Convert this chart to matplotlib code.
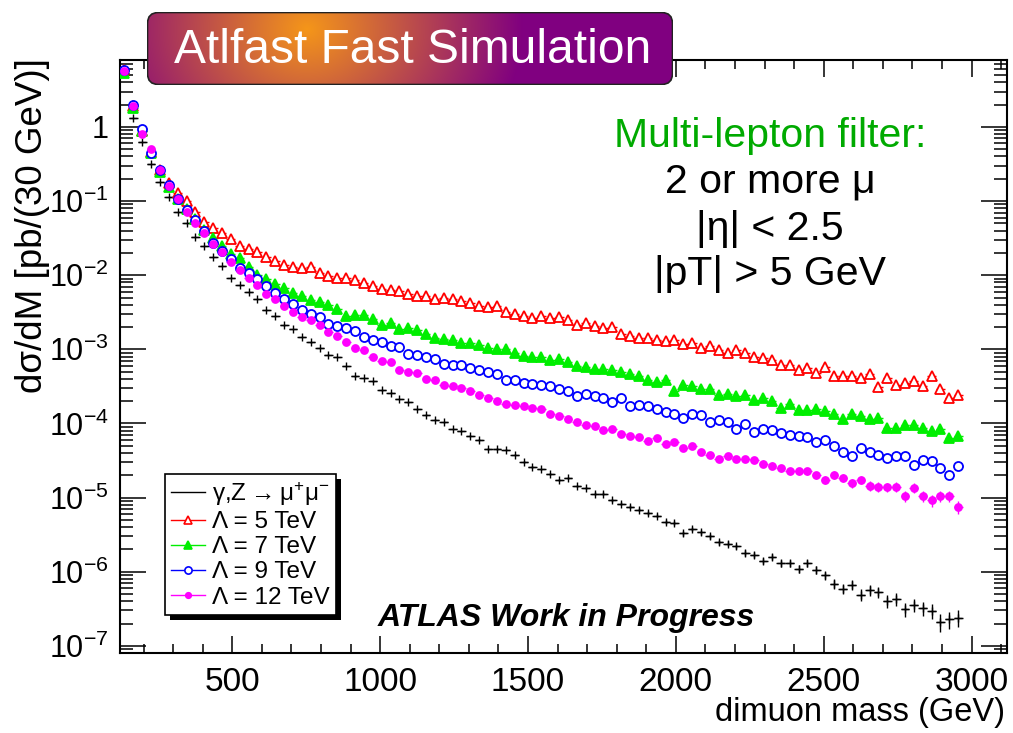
import numpy as np
import matplotlib
matplotlib.use("Agg")
import matplotlib.pyplot as plt
from matplotlib.lines import Line2D
from matplotlib.patches import FancyBboxPatch, Rectangle
from matplotlib.ticker import MultipleLocator, LogLocator, FuncFormatter, NullFormatter
from matplotlib.transforms import IdentityTransform

plt.rcParams['font.family'] = ['Liberation Sans', 'DejaVu Sans']
plt.rcParams['mathtext.default'] = 'regular'

# dimuon mass bins, 30 GeV wide
bin_width = 30.0
mass = np.arange(120, 2970, bin_width) + bin_width / 2

# d(sigma)/dM [pb / 30 GeV]
dy = [5.3, 1.31, 0.62, 0.314, 0.18, 0.112, 0.072, 0.051, 0.033, 0.025,
      0.0178, 0.0134, 0.0093, 0.0073, 0.0059, 0.0048, 0.0034, 0.0028, 0.0021, 0.0019,
      0.00148, 0.00124, 0.00104, 0.00085, 0.00079, 0.00059, 0.00043, 0.00041, 0.00037, 0.00028,
      0.00026, 0.000214, 0.000193, 0.000155, 0.000132, 0.000113, 0.000104, 8.4e-5, 7.8e-5, 6.85e-5,
      6.0e-5, 4.52e-5, 4.52e-5, 4.43e-5, 3.8e-5, 3.0e-5, 2.59e-5, 2.4e-5, 2.1e-5, 1.71e-5,
      1.84e-5, 1.45e-5, 1.35e-5, 1.13e-5, 1.13e-5, 9.2e-6, 8.3e-6, 7.5e-6, 6.9e-6, 6.2e-6,
      5.7e-6, 4.7e-6, 4.5e-6, 3.3e-6, 3.8e-6, 3.4e-6, 3.0e-6, 2.5e-6, 2.4e-6, 2.2e-6,
      1.8e-6, 1.7e-6, 1.4e-6, 1.6e-6, 1.3e-6, 1.3e-6, 1.1e-6, 1.3e-6, 1.07e-6, 8.9e-7,
      6.9e-7, 5.9e-7, 6.7e-7, 4.9e-7, 5.6e-7, 5.3e-7, 4.0e-7, 4.3e-7, 3.1e-7, 3.6e-7,
      3.2e-7, 2.95e-7, 2.1e-7, 2.27e-7, 2.4e-7]

lam5 = [5.8, 1.94, 0.88, 0.46, 0.263, 0.174, 0.128, 0.099, 0.071, 0.052,
        0.043, 0.037, 0.031, 0.025, 0.0228, 0.0205, 0.0178, 0.0156, 0.0138, 0.0130,
        0.0125, 0.0127, 0.0107, 0.0098, 0.0091, 0.0091, 0.0085, 0.0078, 0.0072, 0.0066,
        0.0064, 0.0062, 0.0056, 0.0053, 0.0053, 0.0048, 0.0050, 0.0047, 0.0045, 0.0042,
        0.0039, 0.0037, 0.0039, 0.0032, 0.0030, 0.00284, 0.00263, 0.00284, 0.00263, 0.00272,
        0.00251, 0.00215, 0.00226, 0.00208, 0.00194, 0.0020, 0.00162, 0.00152, 0.00142, 0.00142,
        0.00135, 0.00128, 0.00135, 0.00119, 0.00122, 0.00104, 0.00112, 0.00097, 0.00089, 0.00097,
        0.00089, 0.00079, 0.00076, 0.00072, 0.00062, 0.00062, 0.00052, 0.00056, 0.00048, 0.00058,
        0.00044, 0.00043, 0.00043, 0.00041, 0.00046, 0.00031, 0.00041, 0.00033, 0.00035, 0.00037,
        0.00032, 0.00043, 0.00029, 0.00022, 0.000245]

lam7 = [5.3, 1.8, 0.88, 0.45, 0.25, 0.155, 0.107, 0.0785, 0.0575, 0.041,
        0.0317, 0.025, 0.0192, 0.017, 0.013, 0.0100, 0.0089, 0.0076, 0.0067, 0.0057,
        0.0052, 0.0046, 0.0043, 0.0040, 0.0035, 0.00278, 0.00292, 0.00292, 0.00256, 0.00215,
        0.0023, 0.00188, 0.00194, 0.00184, 0.00162, 0.00142, 0.00138, 0.00135, 0.00122, 0.00122,
        0.00115, 0.00104, 0.0010, 0.0010, 0.00089, 0.00082, 0.0008, 0.00079, 0.00072, 0.00074,
        0.00067, 0.00059, 0.00058, 0.00054, 0.00054, 0.00052, 0.0005, 0.00047, 0.00043, 0.00038,
        0.00036, 0.00039, 0.00027, 0.000333, 0.000316, 0.00029, 0.00029, 0.000245, 0.00025, 0.000232,
        0.000245, 0.000204, 0.00022, 0.0002, 0.00016, 0.000185, 0.00015, 0.00015, 0.000155, 0.000146,
        0.000136, 0.000115, 0.000136, 0.000125, 0.000115, 0.000119, 8.7e-5, 8.7e-5, 9.6e-5, 9.6e-5,
        8.7e-5, 7.8e-5, 8.3e-5, 6.37e-5, 6.71e-5]

lam9 = [5.9, 2.0, 0.95, 0.45, 0.26, 0.165, 0.107, 0.076, 0.055, 0.040,
        0.027, 0.0214, 0.0166, 0.0125, 0.0107, 0.0089, 0.0071, 0.0057, 0.0047, 0.0041,
        0.0034, 0.0030, 0.0027, 0.00221, 0.00208, 0.00194, 0.00175, 0.00146, 0.00132, 0.00124,
        0.0011, 0.00107, 0.00087, 0.00085, 0.0008, 0.00074, 0.00064, 0.00062, 0.00062, 0.00056,
        0.00052, 0.0005, 0.00047, 0.00039, 0.00038, 0.00035, 0.00034, 0.000333, 0.000316, 0.00029,
        0.00027, 0.000237, 0.00025, 0.000232, 0.00022, 0.000193, 0.00022, 0.00017, 0.000179, 0.00017,
        0.000157, 0.000141, 0.000136, 0.000119, 0.000136, 0.000128, 0.000104, 0.00011, 0.000104, 8.4e-5,
        9.8e-5, 7.6e-5, 8.4e-5, 8.1e-5, 7.5e-5, 7.07e-5, 6.85e-5, 6.6e-5, 5.56e-5, 5.92e-5,
        4.92e-5, 4.08e-5, 3.68e-5, 4.68e-5, 4.08e-5, 3.8e-5, 3.43e-5, 3.6e-5, 3.68e-5, 2.79e-5,
        3.25e-5, 3.09e-5, 2.51e-5, 2.0e-5, 2.69e-5]

lam12 = [5.6, 1.9, 0.80, 0.51, 0.26, 0.16, 0.105, 0.071, 0.050, 0.037,
         0.026, 0.0205, 0.015, 0.0118, 0.0093, 0.0074, 0.0055, 0.0047, 0.0039, 0.0032,
         0.0027, 0.0025, 0.0021, 0.0017, 0.00149, 0.00124, 0.00104, 0.00097, 0.0008, 0.00069,
         0.00067, 0.00053, 0.0005, 0.00048, 0.0004, 0.00039, 0.000333, 0.000316, 0.0003, 0.00027,
         0.000245, 0.00022, 0.0002, 0.000185, 0.000179, 0.00017, 0.00016, 0.000155, 0.000136, 0.000127,
         0.000115, 0.000104, 9.64e-5, 9.14e-5, 8.07e-5, 8.42e-5, 7.3e-5, 6.85e-5, 6.6e-5, 5.75e-5,
         6.37e-5, 5.36e-5, 5.56e-5, 4.68e-5, 5.0e-5, 4.08e-5, 3.7e-5, 3.35e-5, 3.68e-5, 3.35e-5,
         3.35e-5, 3.25e-5, 2.88e-5, 2.7e-5, 2.48e-5, 2.26e-5, 2.26e-5, 2.26e-5, 2.0e-5, 1.75e-5,
         2.04e-5, 1.84e-5, 1.55e-5, 1.75e-5, 1.45e-5, 1.41e-5, 1.39e-5, 1.41e-5, 1.04e-5, 1.35e-5,
         1.04e-5, 9.2e-6, 1.06e-5, 1.04e-5, 7.5e-6]

# per-event weights of the generated samples (statistical error = sqrt(w * sum))
w_dy = 1.5e-8
w_ci = 3.0e-7

fig = plt.figure(figsize=(10.13, 7.33), dpi=100)
ax = fig.add_axes([120 / 1013, 1 - 653 / 733, 887 / 1013, 593 / 733])
ax.set_yscale('log')

xerr = bin_width / 2
y = np.array(dy)
ax.errorbar(mass, y, xerr=xerr, yerr=np.sqrt(w_dy * y), fmt='+', color='black',
            ms=6, mew=1.0, elinewidth=1.0, capsize=0, zorder=3)

# open markers get a white face so the error bars do not show through
styles = [
    (lam5, 'red', '^', 'white', 7),
    (lam7, '#00ee00', '^', '#00ee00', 7),
    (lam9, 'blue', 'o', 'white', 6.5),
    (lam12, 'magenta', 'o', 'magenta', 5),
]
for vals, col, mk, fc, ms in styles:
    v = np.array(vals)
    ax.errorbar(mass, v, xerr=xerr, yerr=np.sqrt(w_ci * v), fmt='none',
                ecolor=col, elinewidth=1.0, capsize=0, zorder=3)
    ax.plot(mass, v, ls='none', marker=mk, mfc=fc, mec=col, ms=ms, mew=1.3, zorder=4)

ax.set_xlim(120, 3120)
ax.set_ylim(8e-8, 8)

ax.xaxis.set_major_locator(MultipleLocator(500))
ax.xaxis.set_minor_locator(MultipleLocator(100))
ax.yaxis.set_major_locator(LogLocator(base=10, numticks=20))
ax.yaxis.set_minor_locator(LogLocator(base=10, subs=np.arange(2, 10), numticks=20))
ax.yaxis.set_minor_formatter(NullFormatter())


def log_label(v, pos):
    e = int(round(np.log10(v)))
    if e < -7 or e > 0:
        return ''
    if e == 0:
        return '1'
    return r'$10^{%d}$' % e


ax.yaxis.set_major_formatter(FuncFormatter(log_label))

ax.tick_params(axis='both', which='both', direction='in', top=True, right=True,
               width=1.1, colors='black')
ax.tick_params(axis='x', which='major', length=12, labelsize=24, pad=10)
ax.tick_params(axis='x', which='minor', length=6.5)
ax.tick_params(axis='y', which='major', length=19, labelsize=22, pad=8)
ax.tick_params(axis='y', which='minor', length=9.5)
for sp in ax.spines.values():
    sp.set_linewidth(1.5)

fig.text(33 / 1013, 1 - 58 / 733, 'dσ/dM [pb/(30 GeV)]', rotation=90,
         ha='center', va='top', fontsize=26.5)
fig.text(1005 / 1013, 1 - 712 / 733, 'dimuon mass (GeV)', ha='right', va='center',
         fontsize=23.5)

# filter description, placed by baseline
fig.text(770 / 1013, 1 - 147 / 733, 'Multi-lepton filter:', color='#00aa00',
         ha='center', va='baseline', fontsize=29.5)
for base, line in zip([193, 240, 285], ['2 or more μ', '|η| < 2.5', '|pT| > 5 GeV']):
    fig.text(770 / 1013, 1 - base / 733, line, color='black',
             ha='center', va='baseline', fontsize=29.5)

fig.text(566 / 1013, 1 - 618 / 733, 'ATLAS Work in Progress', ha='center', va='center',
         fontsize=23, fontweight='bold', fontstyle='italic')

# legend
handles = [Line2D([], [], color='black', lw=1.0)]
labels = [r'γ,Z$\rightarrow\mu^{+}\mu^{-}$']
for (vals, col, mk, fc, ms), lab in zip(styles, ['Λ = 5 TeV', 'Λ = 7 TeV', 'Λ = 9 TeV', 'Λ = 12 TeV']):
    handles.append(Line2D([], [], color=col, lw=1.0, marker=mk, mfc=fc, mec=col,
                          ms=ms * 0.8, mew=1.2))
    labels.append(lab)
leg = ax.legend(handles, labels, loc='upper left',
                bbox_to_anchor=(165 / 1013, 1 - 474 / 733), bbox_transform=fig.transFigure,
                borderaxespad=0, fontsize=17.5, frameon=True, fancybox=False,
                framealpha=1, edgecolor='black', handlelength=1.4, handletextpad=0.3,
                labelspacing=0.13, borderpad=0.25)
leg.get_frame().set_linewidth(1.2)
leg.set_zorder(7)

fig.canvas.draw()
bb = leg.get_window_extent()
shadow = Rectangle((bb.x0 + 5, bb.y0 - 5), bb.width, bb.height, transform=IdentityTransform(),
                   facecolor='black', edgecolor='none', zorder=6.9, clip_on=False)
ax.add_artist(shadow)

# title banner with a radial orange-purple gradient
bx0, by0, bw, bh = 147, 12, 526, 73
bax = fig.add_axes([bx0 / 1013, 1 - (by0 + bh) / 733, bw / 1013, bh / 733])
bax.set_xlim(0, bw)
bax.set_ylim(0, bh)
bax.axis('off')
gx, gy = np.meshgrid(np.arange(bw) + 0.5, np.arange(bh) + 0.5)
d = np.hypot(gx - 160, (gy - 17) * 1.2)
t = np.clip(d / 215.0, 0, 1)[..., None]
orange = np.array([245, 150, 25]) / 255
purple = np.array([128, 0, 128]) / 255
grad = orange * (1 - t) + purple * t
box = FancyBboxPatch((0.5, 0.5), bw - 1, bh - 1, boxstyle='round,pad=0,rounding_size=11',
                     facecolor='none', edgecolor='#222222', lw=1.2)
bax.add_patch(box)
img = bax.imshow(grad, extent=(0, bw, bh, 0), origin='upper', aspect='auto', zorder=0)
img.set_clip_path(box)
bax.set_ylim(bh, 0)
bax.text(bw / 2 + 3, bh / 2 + 2, 'Atlfast Fast Simulation', color='white', ha='center',
         va='center', fontsize=34.5)

fig.savefig('out.png', dpi=100)
